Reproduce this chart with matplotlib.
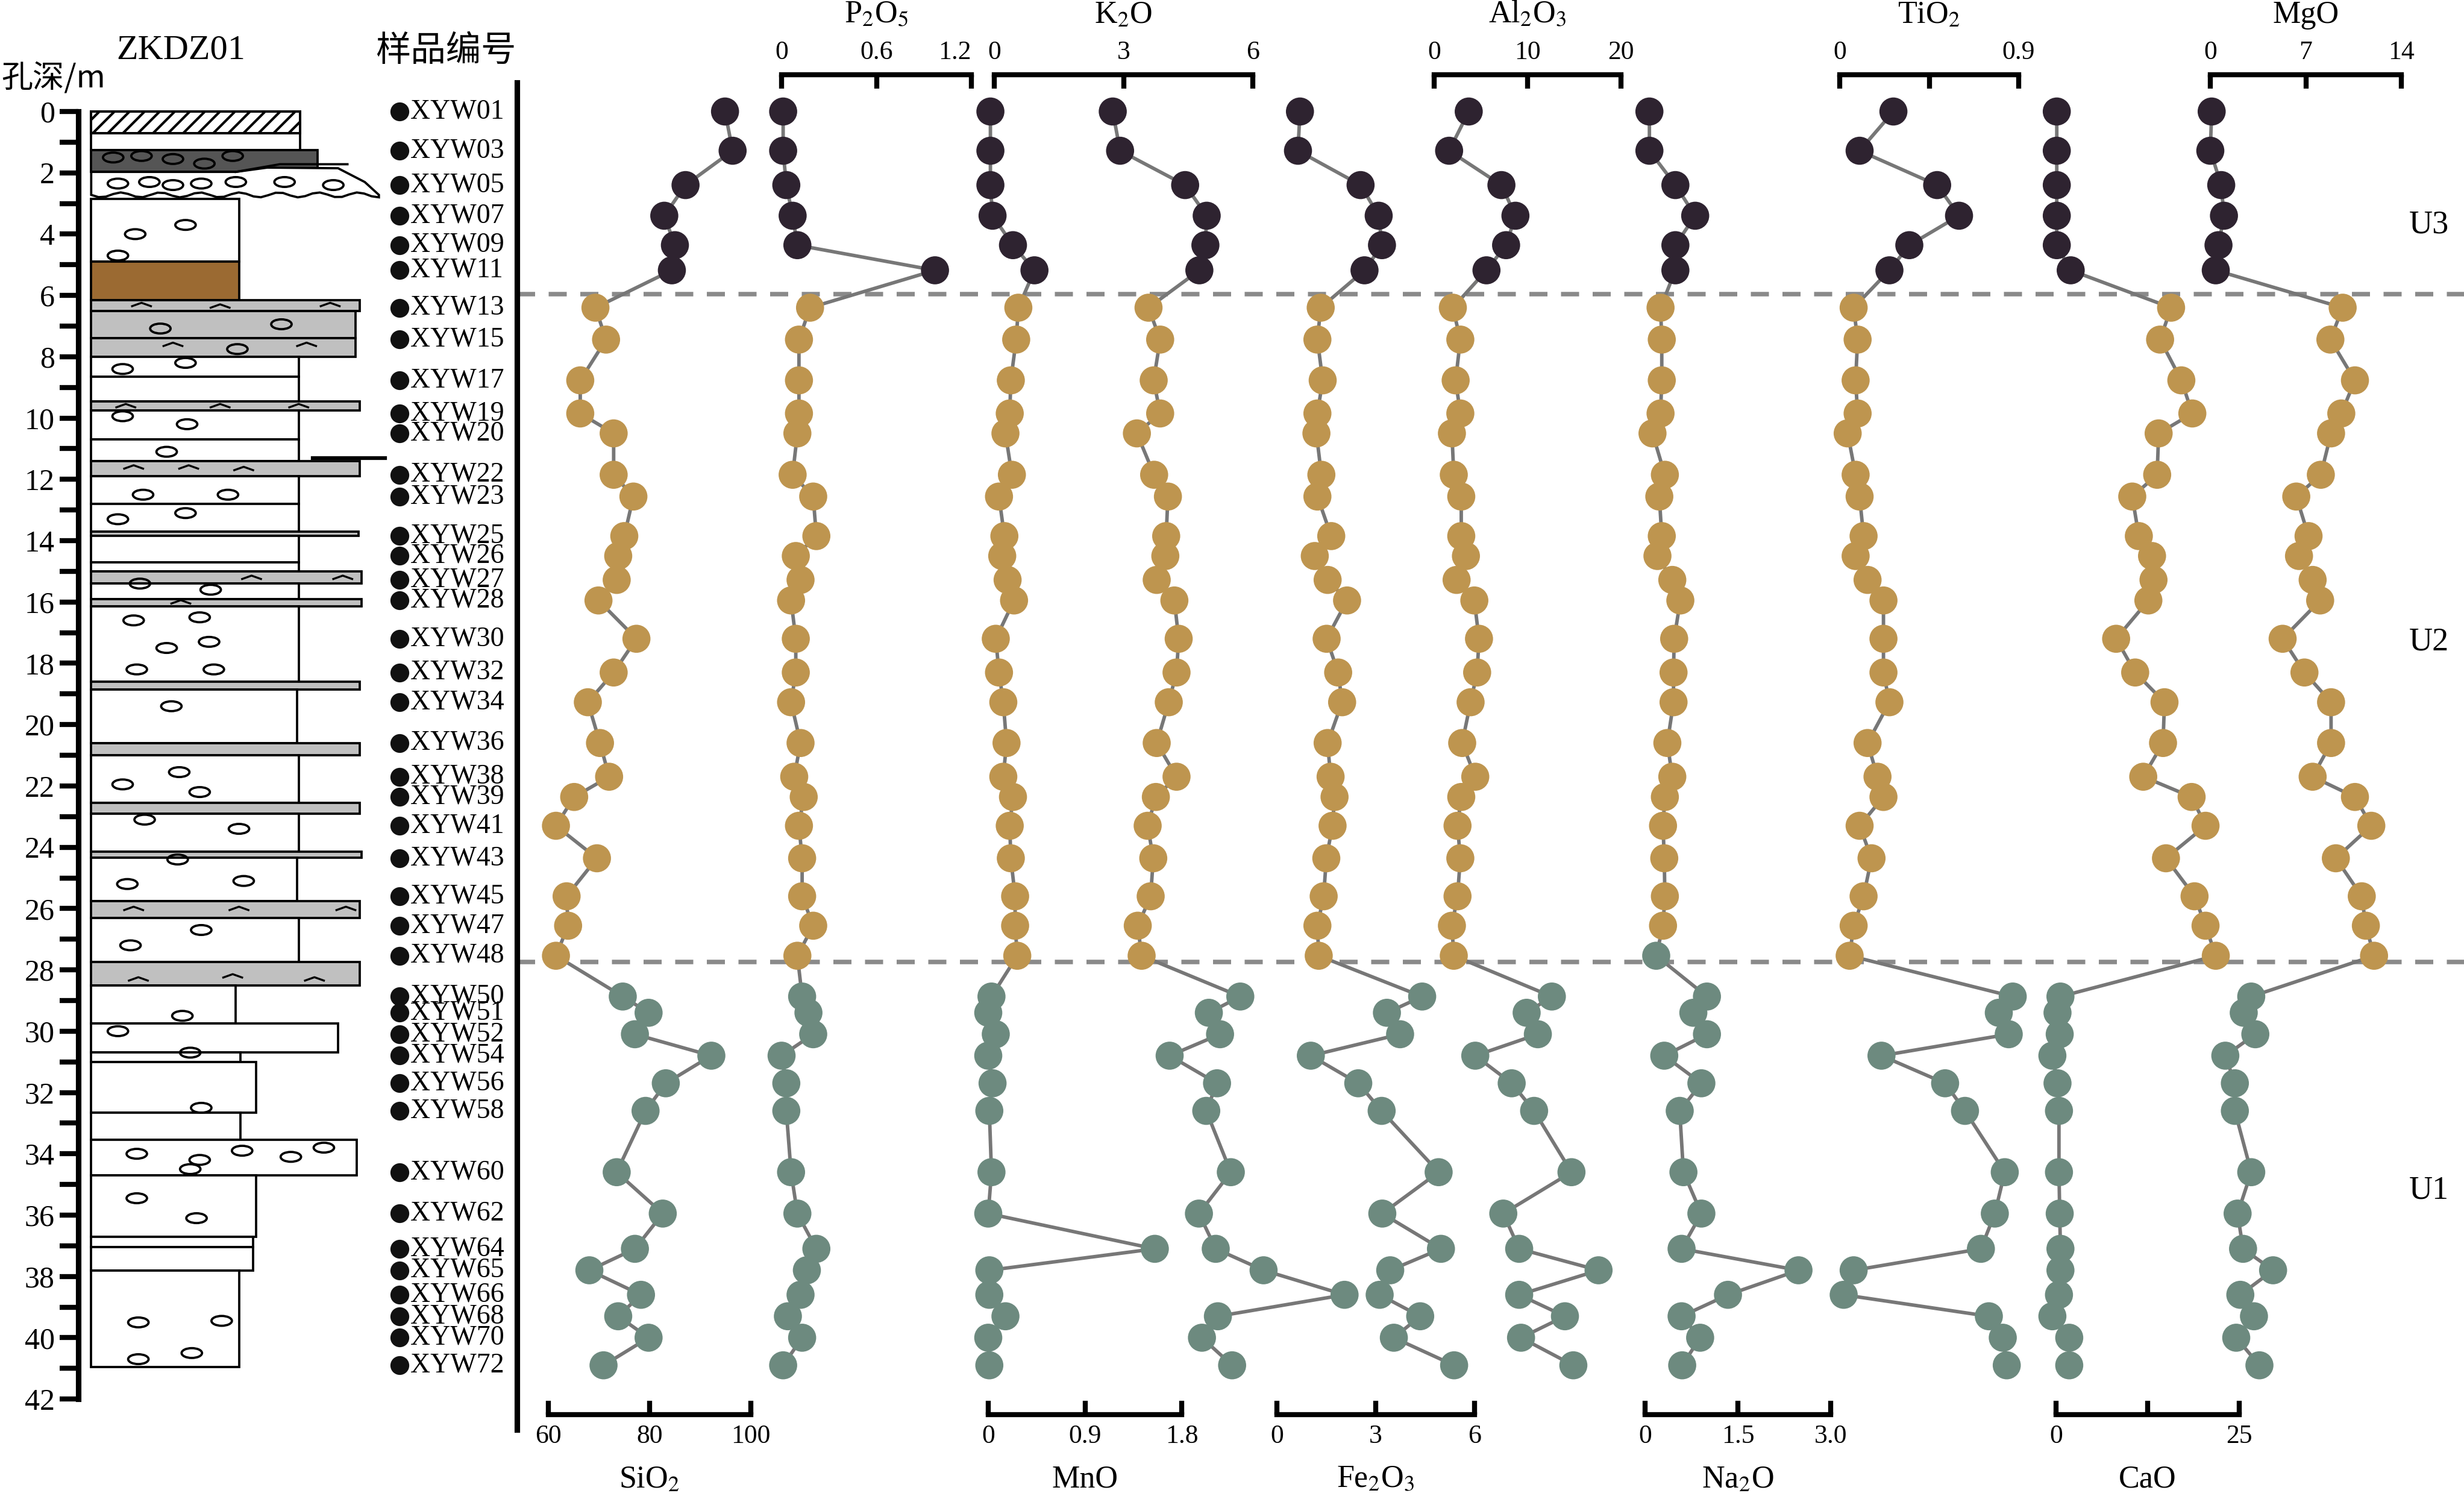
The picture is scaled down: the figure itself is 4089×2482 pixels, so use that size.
import numpy as np
import matplotlib
matplotlib.use('Agg')
import matplotlib.pyplot as plt
from matplotlib.patches import Rectangle, Ellipse, Polygon
from matplotlib.lines import Line2D

plt.rcParams['font.family'] = ['Liberation Serif', 'DejaVu Serif']
plt.rcParams['mathtext.fontset'] = 'stix'

# ---------------- data ----------------
samples = ['XYW01', 'XYW03', 'XYW05', 'XYW07', 'XYW09', 'XYW11',
           'XYW13', 'XYW15', 'XYW17', 'XYW19', 'XYW20', 'XYW22', 'XYW23', 'XYW25',
           'XYW26', 'XYW27', 'XYW28', 'XYW30', 'XYW32', 'XYW34', 'XYW36', 'XYW38',
           'XYW39', 'XYW41', 'XYW43', 'XYW45', 'XYW47', 'XYW48',
           'XYW50', 'XYW51', 'XYW52', 'XYW54', 'XYW56', 'XYW58', 'XYW60', 'XYW62',
           'XYW64', 'XYW65', 'XYW66', 'XYW68', 'XYW70', 'XYW72']
depth = [0.0, 1.28, 2.4, 3.4, 4.36, 5.18,
         6.4, 7.44, 8.77, 9.85, 10.5, 11.85, 12.56, 13.85, 14.5, 15.28, 15.95,
         17.2, 18.3, 19.27, 20.6, 21.7, 22.36, 23.3, 24.36, 25.6, 26.56, 27.54,
         28.87, 29.4, 30.1, 30.8, 31.7, 32.6, 34.6, 35.95, 37.1, 37.8, 38.6,
         39.3, 40.0, 40.9]
unit = ['U3'] * 6 + ['U2'] * 22 + ['U1'] * 14

sio2 = [94.9, 96.4, 87.1, 82.9, 85.0, 84.4,
        69.3, 71.4, 66.3, 66.3, 72.9, 72.9, 76.8, 75.0, 73.8, 73.5, 69.9, 77.4,
        72.9, 67.8, 70.2, 72.0, 65.1, 61.5, 69.6, 63.6, 63.9, 61.5,
        74.7, 79.8, 77.1, 92.2, 83.2, 79.2, 73.5, 82.6, 77.1, 68.1, 78.3, 73.8,
        79.8, 70.9]
p2o5 = [0.01, 0.01, 0.03, 0.07, 0.10, 0.97,
        0.18, 0.11, 0.11, 0.11, 0.10, 0.07, 0.20, 0.22, 0.09, 0.12, 0.06, 0.09,
        0.09, 0.06, 0.12, 0.08, 0.14, 0.11, 0.13, 0.13, 0.20, 0.10,
        0.13, 0.17, 0.20, 0.00, 0.03, 0.03, 0.06, 0.10, 0.22, 0.16, 0.12, 0.04,
        0.13, 0.01]
mno = [0.02, 0.02, 0.02, 0.04, 0.23, 0.43,
       0.28, 0.26, 0.21, 0.20, 0.16, 0.22, 0.10, 0.15, 0.13, 0.18, 0.24, 0.07,
       0.10, 0.14, 0.17, 0.14, 0.23, 0.20, 0.21, 0.25, 0.25, 0.27,
       0.03, 0.00, 0.07, 0.00, 0.04, 0.01, 0.03, 0.00, 1.55, 0.01, 0.01, 0.16,
       0.00, 0.01]
k2o = [2.75, 2.92, 4.43, 4.93, 4.90, 4.76,
       3.58, 3.85, 3.70, 3.85, 3.31, 3.71, 4.03, 3.99, 3.97, 3.77, 4.18, 4.28,
       4.23, 4.05, 3.77, 4.23, 3.75, 3.56, 3.69, 3.63, 3.33, 3.42,
       5.71, 4.98, 5.24, 4.07, 5.17, 4.92, 5.49, 4.75, 5.14, 6.25, 8.13, 5.19,
       4.82, 5.52]
fe2o3 = [0.70, 0.64, 2.54, 3.09, 3.19, 2.66,
         1.33, 1.23, 1.39, 1.23, 1.20, 1.35, 1.23, 1.65, 1.15, 1.54, 2.13, 1.51,
         1.86, 1.98, 1.54, 1.63, 1.75, 1.69, 1.50, 1.42, 1.23, 1.27,
         4.41, 3.34, 3.74, 1.03, 2.47, 3.18, 4.91, 3.20, 4.98, 3.44, 3.12, 4.35,
         3.55, 5.38]
al2o3 = [3.7, 1.6, 7.2, 8.7, 7.7, 5.6,
         2.0, 2.8, 2.3, 2.8, 1.9, 2.1, 2.9, 2.9, 3.4, 2.4, 4.3, 4.8, 4.6, 3.9,
         3.0, 4.4, 2.9, 2.5, 2.8, 2.5, 1.9, 2.1,
         12.6, 9.9, 11.1, 4.4, 8.3, 10.7, 14.7, 7.4, 9.1, 17.6, 9.1, 14.0, 9.3,
         14.9]
na2o = [0.07, 0.07, 0.49, 0.81, 0.49, 0.49,
        0.25, 0.27, 0.27, 0.25, 0.12, 0.32, 0.23, 0.27, 0.20, 0.44, 0.57, 0.47,
        0.46, 0.46, 0.36, 0.44, 0.32, 0.29, 0.31, 0.32, 0.29, 0.18,
        1.00, 0.78, 1.00, 0.31, 0.91, 0.56, 0.62, 0.91, 0.59, 2.48, 1.34, 0.59,
        0.89, 0.60]
tio2 = [0.27, 0.10, 0.49, 0.60, 0.35, 0.25,
        0.07, 0.09, 0.08, 0.09, 0.04, 0.08, 0.10, 0.12, 0.08, 0.14, 0.22, 0.22,
        0.22, 0.25, 0.14, 0.19, 0.22, 0.10, 0.16, 0.12, 0.07, 0.05,
        0.87, 0.80, 0.85, 0.21, 0.53, 0.63, 0.83, 0.78, 0.71, 0.07, 0.02, 0.75,
        0.82, 0.84]
cao = [0.1, 0.1, 0.1, 0.1, 0.1, 2.0,
       15.7, 14.2, 17.1, 18.6, 14.0, 13.8, 10.4, 11.3, 13.1, 13.3, 12.6, 8.2,
       10.8, 14.8, 14.6, 11.9, 18.5, 20.4, 15.0, 18.9, 20.4, 21.8,
       0.6, 0.2, 0.5, -0.5, 0.2, 0.4, 0.4, 0.5, 0.6, 0.6, 0.4, -0.5, 1.8, 1.8]
mgo = [0.1, 0.0, 0.8, 1.0, 0.6, 0.4,
       9.7, 8.8, 10.6, 9.6, 8.85, 8.1, 6.3, 7.2, 6.5, 7.5, 8.05, 5.3, 6.9,
       8.85, 8.85, 7.5, 10.6, 11.8, 9.2, 11.1, 11.4, 12.0,
       3.0, 2.45, 3.3, 1.1, 1.8, 1.8, 3.0, 2.0, 2.4, 4.6, 2.2, 3.2, 1.9, 3.6]

unit_colors = {'U3': '#2e2330', 'U2': '#be954f', 'U1': '#6d8a7f'}

# ---------------- layout (original pixel coords) ----------------
W, H = 4089, 2482
D0, PXM = 185.0, 50.86          # y pixel of depth 0, pixels per metre
YLIM = (42.5, -1.2)


def ypx(d):
    return D0 + PXM * d


def ax_rect(x0, x1):
    yt, yb = ypx(YLIM[1]), ypx(YLIM[0])
    return [x0 / W, 1 - yb / H, (x1 - x0) / W, (yb - yt) / H]


fig = plt.figure(figsize=(W / 300, H / 300), dpi=300)

# overlay for dashed boundaries and unit labels
ov = fig.add_axes(ax_rect(858, W))
ov.set_xlim(0, 1)
ov.set_ylim(*YLIM)
ov.axis('off')
for b in [5.95, 27.75]:
    ov.axhline(b, color='#8a8a8a', lw=1.8, dashes=(4, 3))
for u, d in [('U3', 3.7), ('U2', 17.3), ('U1', 35.2)]:
    ov.text(0.982, d, u, fontsize=13, ha='center', va='center')

# panels: name, values, lims, ticks, labels, side, x0, x1
panels = [
    ('SiO$_2$', sio2, (60, 100), [60, 80, 100], ['60', '80', '100'], 'bottom', 910, 1246),
    ('P$_2$O$_5$', p2o5, (0, 1.2), [0, 0.6, 1.2], ['0', '0.6', '1.2'], 'top', 1297, 1612),
    ('MnO', mno, (0, 1.8), [0, 0.9, 1.8], ['0', '0.9', '1.8'], 'bottom', 1640, 1961),
    ('K$_2$O', k2o, (0, 6), [0, 3, 6], ['0', '3', '6'], 'top', 1650, 2079),
    ('Fe$_2$O$_3$', fe2o3, (0, 6), [0, 3, 6], ['0', '3', '6'], 'bottom', 2119, 2447),
    ('Al$_2$O$_3$', al2o3, (0, 20), [0, 10, 20], ['0', '10', '20'], 'top', 2380, 2690),
    ('Na$_2$O', na2o, (0, 3), [0, 1.5, 3], ['0', '1.5', '3.0'], 'bottom', 2730, 3038),
    ('TiO$_2$', tio2, (0, 0.9), [0, 0.45, 0.9], ['0', '', '0.9'], 'top', 3053, 3350),
    ('CaO', cao, (0, 25), [0, 12.5, 25], ['0', '', '25'], 'bottom', 3412, 3716),
    ('MgO', mgo, (0, 14), [0, 7, 14], ['0', '7', '14'], 'top', 3668, 3985),
]

for name, vals, lim, ticks, tlabels, side, x0, x1 in panels:
    ax = fig.add_axes(ax_rect(x0, x1))
    ax.patch.set_alpha(0)
    ax.set_xlim(*lim)
    ax.set_ylim(*YLIM)
    for s in ['left', 'right', 'top', 'bottom']:
        ax.spines[s].set_visible(s == side)
    ax.spines[side].set_linewidth(2)
    ax.set_yticks([])
    ax.set_xticks(ticks)
    ax.set_xticklabels(tlabels)
    ax.xaxis.set_ticks_position(side)
    ax.tick_params(axis='x', direction='in', length=5.5, width=2, labelsize=10.5, pad=4)
    if name.startswith('P'):
        ax.get_xticklabels()[-1].set_horizontalalignment('right')
        ax.get_xticklabels()[-1].set_x(1.21)
    cols = [unit_colors[u] for u in unit]
    if name.startswith('Na'):
        cols[27] = unit_colors['U1']
    ax.plot(vals, depth, color='#777777', lw=1.4, zorder=2, clip_on=False)
    ax.scatter(vals, depth, s=125, c=cols, edgecolors='none', zorder=3, clip_on=False)
    xc = (x0 + x1) / 2 / W
    if side == 'top':
        fig.text(xc, 1 - 25 / H, name, fontsize=12.5, ha='center', va='center')
    else:
        fig.text(xc, 1 - 2455 / H, name, fontsize=12.5, ha='center', va='center')

# ---------------- lithology column ----------------
lith = fig.add_axes(ax_rect(0, 861))
lith.patch.set_alpha(0)
lith.set_xlim(0, 330)
lith.set_ylim(*YLIM)
for s in ['right', 'top', 'bottom']:
    lith.spines[s].set_visible(False)
lith.spines['left'].set_position(('data', 50))
lith.spines['left'].set_bounds(0, 42)
lith.spines['left'].set_linewidth(2.2)
lith.set_xticks([])
lith.set_yticks(range(0, 43, 2))
lith.set_yticks(range(1, 42, 2), minor=True)
lith.tick_params(axis='y', which='both', direction='out', length=7.5, width=2,
                 labelsize=12, pad=2)

fills = {'w': 'white', 'g': '#c0c0c0', 'd': '#555555', 'b': '#9b6a32'}
layers = [(0, 0.7, 191, 'w'), (0.7, 1.25, 191, 'w'), (1.25, 1.97, 202, 'd'),
          (2.85, 4.9, 152, 'w'), (4.9, 6.15, 152, 'b'), (6.15, 6.5, 229, 'g'),
          (6.5, 7.4, 226, 'g'), (7.4, 8.0, 226, 'g'), (8.0, 8.65, 190, 'w'),
          (8.65, 9.45, 190, 'w'), (9.45, 9.75, 229, 'g'), (9.75, 10.7, 190, 'w'),
          (10.7, 11.4, 190, 'w'), (11.4, 11.9, 229, 'g'), (11.9, 12.8, 190, 'w'),
          (12.8, 13.7, 190, 'w'), (13.7, 13.85, 228, 'g'), (13.85, 14.7, 190, 'w'),
          (14.7, 15.0, 190, 'w'), (15.0, 15.4, 230, 'g'), (15.4, 15.9, 190, 'w'),
          (15.9, 16.15, 230, 'g'), (16.15, 18.6, 190, 'w'), (18.6, 18.85, 229, 'g'),
          (18.85, 20.6, 189, 'w'), (20.6, 21.0, 229, 'g'), (21.0, 22.55, 190, 'w'),
          (22.55, 22.9, 229, 'g'), (22.9, 24.15, 190, 'w'), (24.15, 24.35, 230, 'g'),
          (24.35, 25.75, 189, 'w'), (25.75, 26.3, 229, 'g'), (26.3, 27.75, 190, 'w'),
          (27.75, 28.5, 229, 'g'), (28.5, 29.75, 150, 'w'), (29.75, 30.7, 215, 'w'),
          (30.7, 31.0, 153, 'w'), (31.0, 32.65, 163, 'w'), (32.65, 33.55, 153, 'w'),
          (33.55, 34.7, 227, 'w'), (34.7, 36.7, 163, 'w'), (36.7, 37.05, 161, 'w'),
          (37.05, 37.8, 161, 'w'), (37.8, 40.95, 152, 'w')]
LX = 58
for top, bot, right, c in layers:
    lith.add_patch(Rectangle((LX, top), right - LX, bot - top, facecolor=fills[c],
                             edgecolor='black', lw=0.9, zorder=2))
lith.add_patch(Rectangle((LX, 0), 191 - LX, 0.7, facecolor='none', edgecolor='black',
                         hatch='////', lw=0.9, zorder=3))
# gravel lens with wavy base
wx = np.linspace(LX, 241, 40)
wav = 2.72 + 0.08 * np.sin((wx - LX) / 4.0)
poly = [(LX, 1.97), (150, 1.97), (170, 1.83), (215, 1.85), (232, 2.3), (241, 2.72)]
poly += list(zip(wx[::-1], wav[::-1]))
lith.add_patch(Polygon(poly, closed=True, facecolor='white', edgecolor='black',
                       lw=0.9, zorder=2))
lith.plot([150, 178, 221], [1.97, 1.72, 1.72], color='black', lw=0.9, zorder=3)
lith.plot([199, 245], [11.3, 11.3], color='black', lw=1.5, zorder=3)

pebbles = [(118, 3.7), (86, 4.0), (75, 4.7), (102, 7.08), (179, 6.94), (151, 7.75),
           (78, 8.4), (118, 8.2), (78, 9.94), (119, 10.2), (106, 11.1), (91, 12.5),
           (145, 12.5), (118, 13.1), (75, 13.3), (89, 15.4), (134, 15.6), (85, 16.6),
           (127, 16.5), (106, 17.5), (133, 17.3), (87, 18.2), (136, 18.2), (109, 19.4),
           (114, 21.55), (78, 21.95), (127, 22.2), (92, 23.1), (152, 23.4), (113, 24.4),
           (81, 25.2), (155, 25.1), (128, 26.7), (83, 27.2), (116, 29.5), (75, 30.0),
           (121, 30.7), (87, 34.0), (127, 34.2), (121, 34.5), (154, 33.9), (185, 34.1),
           (206, 33.8), (87, 35.45), (125, 36.1), (88, 39.5), (141, 39.45), (122, 40.5),
           (88, 40.7), (128, 32.5),
           (75, 2.35), (95, 2.3), (110, 2.4), (128, 2.35), (150, 2.3), (181, 2.3),
           (212, 2.4), (72, 1.5), (90, 1.45), (110, 1.55), (148, 1.45), (130, 1.7)]
for px, d in pebbles:
    lith.add_patch(Ellipse((px, d), 13, 0.32, facecolor='none', edgecolor='black',
                           lw=0.9, zorder=4))
for px, d in [(90, 6.3), (140, 6.35), (210, 6.3), (110, 7.6), (195, 7.6),
              (85, 11.6), (120, 11.6), (155, 11.65), (85, 26.0), (152, 26.0), (220, 26.0),
              (88, 28.3), (148, 28.2), (200, 28.3), (160, 15.2), (218, 15.2),
              (80, 9.6), (140, 9.6), (190, 9.6), (115, 16.0)]:
    lith.plot([px - 6, px, px + 6], [d + 0.05, d - 0.06, d + 0.05], color='black',
              lw=0.8, zorder=4)

# sample list
for s, d in zip(samples, depth):
    lith.plot(254, d, 'o', color='#111111', ms=6.5, zorder=5, clip_on=False)
    lith.text(261, d, s, fontsize=11, ha='left', va='center')

fig.text(300 / W, 1 - 84 / H, 'ZKDZ01', fontsize=14, ha='center', va='center')
fig.text(740 / W, 1 - 84 / H, '样品编号', fontsize=14, ha='center', va='center',
         family=['Noto Sans CJK SC', 'DejaVu Sans'])
fig.text(2 / W, 1 - 130 / H, '孔深/m', fontsize=12.5, ha='left', va='center',
         family=['Noto Sans CJK SC', 'DejaVu Sans'])

# vertical separator
fig.add_artist(Line2D([858 / W, 858 / W], [1 - ypx(-0.94) / H, 1 - ypx(43.0) / H],
                      color='black', lw=2.2))

fig.savefig('out.png', dpi=300)
